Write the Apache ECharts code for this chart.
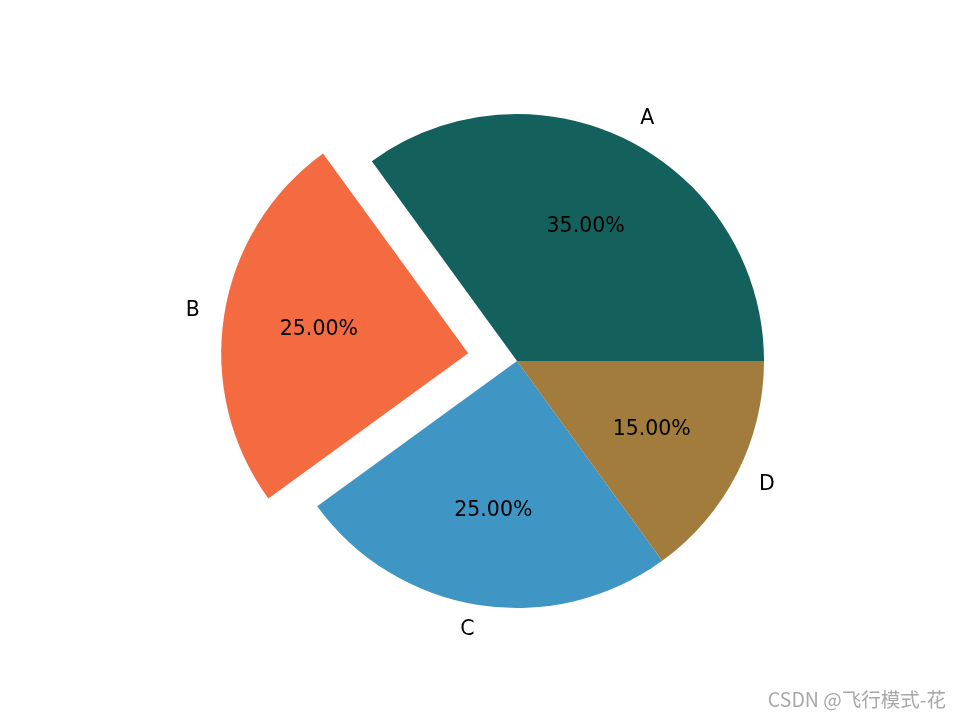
<!DOCTYPE html>
<html>
<head>
<meta charset="utf-8">
<script src="https://cdn.jsdelivr.net/npm/echarts@6/dist/echarts.min.js"></script>
<style>html,body{margin:0;padding:0;background:#fff}#c{width:960px;height:720px}</style>
</head>
<body>
<div id="c"></div>
<script>
const categories = ['A', 'B', 'C', 'D'];
const values = [35, 25, 25, 15];
const colors = ['#14605d', '#f46b41', '#3f95c3', '#a17c3c'];
const exploded = [false, true, false, false];
const watermark = 'CSDN @飞行模式-花';

const R = 247;
const CX = 517, CY = 361;
const total = values.reduce((a, b) => a + b, 0);
const FONT = 'DejaVu Sans';
const FS = 20.5;

const mainData = categories.map((n, i) => ({
  name: n, value: values[i], selected: exploded[i],
  itemStyle: { color: colors[i] }
}));
const pctData = categories.map((n, i) => ({
  name: n, value: values[i], selected: exploded[i],
  itemStyle: { color: 'rgba(0,0,0,0)' }
}));

const chart = echarts.init(document.getElementById('c'), null, { renderer: 'canvas' });
chart.setOption({
  backgroundColor: '#ffffff',
  animation: false,
  title: {
    text: watermark, right: 9, bottom: 6,
    textStyle: { color: '#a8a8a8', fontSize: 19.5, fontWeight: 'normal', fontFamily: 'Noto Sans CJK SC' }
  },
  series: [
    {
      type: 'pie', center: [CX, CY], radius: [0, R],
      startAngle: 0, clockwise: false,
      selectedMode: 'multiple', selectedOffset: R * 0.2,
      avoidLabelOverlap: false,
      itemStyle: { borderWidth: 0 },
      emphasis: { disabled: true },
      label: {
        show: true, position: 'outside', formatter: '{b}',
        color: '#000', fontSize: FS, fontFamily: FONT, distanceToLabelLine: 0
      },
      labelLine: { show: false, length: R * 0.1, length2: 0 },
      data: mainData
    },
    {
      type: 'pie', center: [CX, CY], radius: [R * 0.2, R],
      startAngle: 0, clockwise: false, silent: true,
      selectedMode: 'multiple', selectedOffset: R * 0.2,
      itemStyle: { borderWidth: 0 },
      emphasis: { disabled: true },
      label: {
        show: true, position: 'inside',
        formatter: p => (p.value / total * 100).toFixed(2) + '%',
        color: '#000', fontSize: FS, fontFamily: FONT
      },
      labelLine: { show: false },
      data: pctData
    }
  ]
});
</script>
</body>
</html>
